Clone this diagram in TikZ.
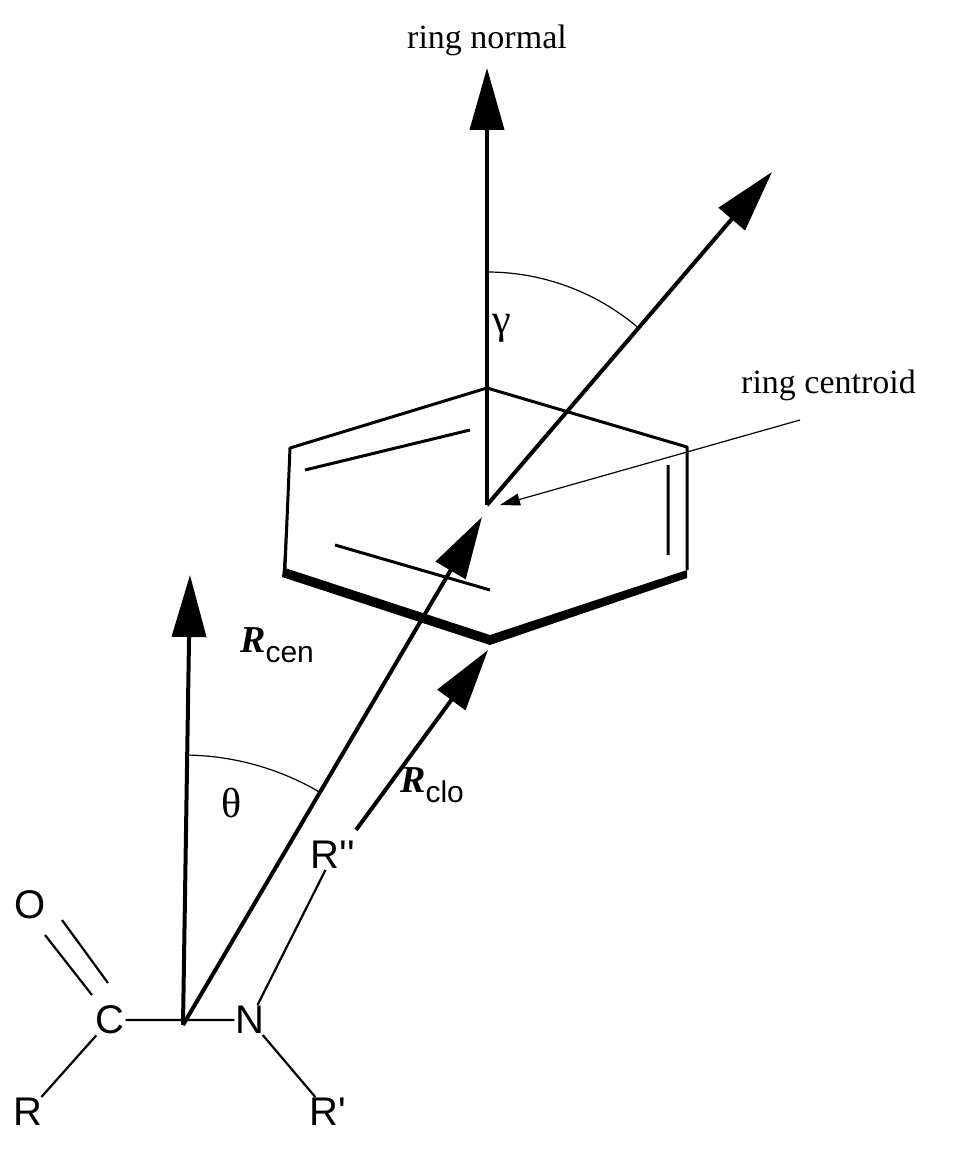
\documentclass[tikz,border=0pt]{standalone}
\usepackage{fontspec}
\setmainfont{Liberation Serif}
\newfontfamily\sansf{Liberation Sans}
\usetikzlibrary{arrows.meta}
\begin{document}
\begin{tikzpicture}[x=1pt,y=-1pt,
  vec/.style={line width=4pt,-{Triangle[length=62pt,width=34pt]}},
  bond/.style={line width=2.2pt},
  atom/.style={font=\sansf\fontsize{40}{40}\selectfont,inner sep=1pt},
  lbl/.style={font=\fontsize{34}{34}\selectfont,inner sep=1pt},
  greek/.style={font=\fontsize{42}{42}\selectfont,inner sep=1pt}]
\useasboundingbox (0,0) rectangle (965,1174);
% ring
\coordinate (c) at (487,505);
\coordinate (v1) at (487,388); \coordinate (v2) at (687,447);
\coordinate (v3) at (687,570); \coordinate (v4) at (490,635);
\coordinate (v5) at (285,568); \coordinate (v6) at (290,448);
\draw[line width=3pt,line join=round] (v5)--(v6)--(v1)--(v2)--(v3);
\fill (v6)--(v5)--(v4)--(v3)--(687,578)--(490,645)--(282,577)--(283,568)--cycle;
\draw[line width=3pt] (305,470)--(470,430) (668,465)--(668,555) (335,545)--(490,590);
% vectors
\node[lbl] (rn) at (487,40) {ring normal};
\coordinate (nt) at (487,68);
\coordinate (tt) at (772,172);
\draw[vec] (c)--(nt);
\draw[vec] (c)--(tt);
\draw[line width=1.2pt] (c) ++(-90:233) arc[start angle=-90,end angle=-49.4,radius=233];
\node[greek] (g) at (502,328) {γ};
\node[lbl,anchor=west] (rc) at (740,385) {ring centroid};
\coordinate (ca) at (800,420);
\draw[line width=1.2pt,-{Triangle[length=20pt,width=12pt]}] (ca)--(500,505);
% amide
\node[atom] (O) at (30,905) {O};
\node[atom] (C) at (110,1020) {C};
\node[atom] (N) at (250,1020) {N};
\node[atom] (R) at (28,1112) {R};
\node[atom] (Rp) at (328,1112) {R'};
\node[atom] (Rpp) at (333,855) {R''};
\draw[bond] (45,935)--(92,995) (62,920)--(108,983);
\draw[bond] (C)--(N) (C)--(R) (N)--(Rp) (N)--(Rpp);
\coordinate (o) at (183,1025);
\coordinate (rct) at (190,575);
\coordinate (lt) at (482,517);
\draw[vec] (o)--(rct);
\draw[vec] (o)--(lt);
\draw[line width=1.2pt] (o) ++(-89.1:270) arc[start angle=-89.1,end angle=-59.5,radius=270];
\node[greek] (th) at (232,803) {θ};
\coordinate (cs) at (356,830);
\coordinate (ct) at (488,650);
\draw[vec] (cs)--(ct);
\node[inner sep=0,anchor=west] (Rcen) at (240,645) {\fontsize{38}{38}\selectfont\bfseries\itshape R\raisebox{-10pt}{\sansf\fontsize{30}{30}\mdseries\upshape cen}};
\node[inner sep=0,anchor=west] (Rclo) at (400,785) {\fontsize{38}{38}\selectfont\bfseries\itshape R\raisebox{-10pt}{\sansf\fontsize{30}{30}\mdseries\upshape clo}};
\end{tikzpicture}
\end{document}
